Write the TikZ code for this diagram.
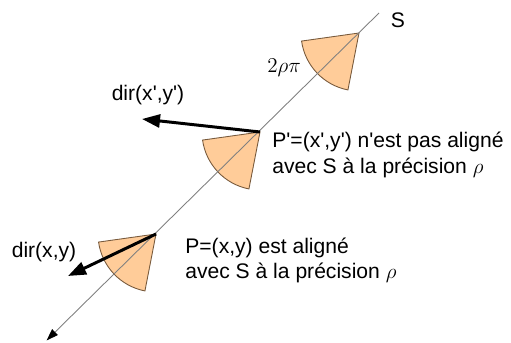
\documentclass[tikz,border=0pt]{standalone}
\usepackage{fontspec}
\setmainfont{Liberation Sans}
\usetikzlibrary{arrows.meta}
\definecolor{conefill}{RGB}{255,204,153}
\definecolor{coneline}{RGB}{120,90,60}
\newcommand{\qt}{\textquotesingle}
\tikzset{
  cone/.style={fill=conefill, draw=coneline, line width=0.5pt},
  dirarrow/.style={line width=1.7pt, -{Triangle[length=0.36cm, width=0.26cm]}},
  label/.style={font=\fontsize{12}{14.7}\selectfont, inner sep=0pt}
}
\begin{document}
\begin{tikzpicture}
\useasboundingbox (0,0) rectangle (10.22,6.84);

% points on S
\coordinate (s1) at (7.58,6.58);
\coordinate (s0) at (0.93,0.03);
\coordinate (a1) at (7.18,6.18);
\coordinate (a2) at (5.20,4.20);
\coordinate (a3) at (3.12,2.16);

% cones
\filldraw[cone] (a1) -- ++(188:1.16) arc[start angle=188, end angle=259, radius=1.16] -- cycle;
\filldraw[cone] (a2) -- ++(188:1.16) arc[start angle=188, end angle=259, radius=1.16] -- cycle;
\filldraw[cone] (a3) -- ++(188:1.16) arc[start angle=188, end angle=259, radius=1.16] -- cycle;

% segment S
\draw[gray, line width=0.5pt, -{Triangle[length=0.24cm, width=0.16cm, black]}] (s1) -- (s0);

% directions
\coordinate (d2) at (2.84,4.46);
\coordinate (d3) at (1.36,1.32);
\draw[dirarrow] (a2) -- (d2);
\draw[dirarrow] (a3) -- (d3);

\node[label] (nS) at (7.96,6.44) {S};
\node[label] (nangle) at (5.68,5.48) {$2\rho\pi$};
\node[label] (ndir2) at (2.96,4.94) {dir(x\qt,y\qt)};
\node[label] (ndir3) at (0.88,1.80) {dir(x,y)};
\node[label, anchor=west, align=left] (np2) at (5.44,3.74)
  {P\qt=(x\qt,y\qt) n\qt est pas aligné\\avec S à la précision $\rho$};
\node[label, anchor=west, align=left] (np3) at (3.70,1.63)
  {P=(x,y) est aligné\\avec S à la précision $\rho$};
\end{tikzpicture}
\end{document}
